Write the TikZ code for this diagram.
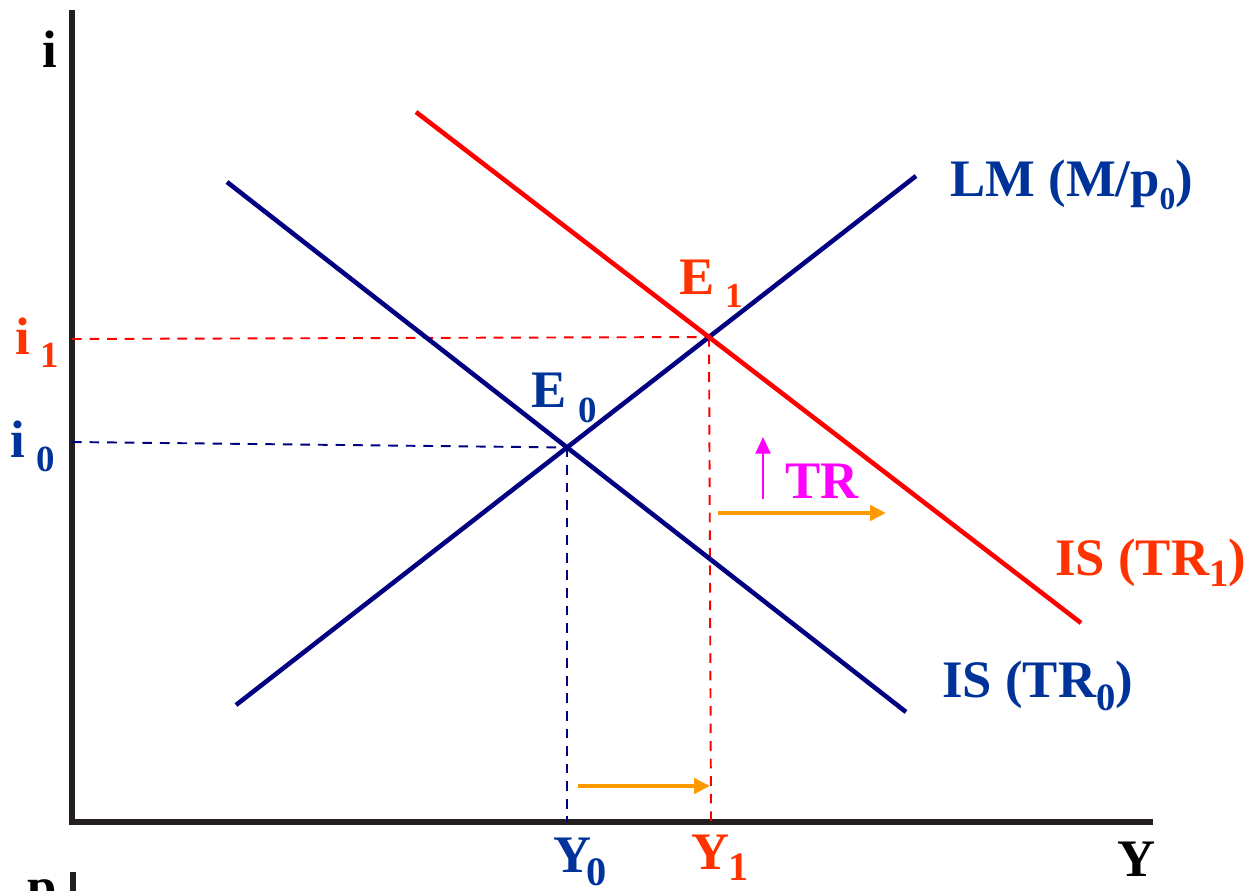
\documentclass[tikz,border=0pt]{standalone}
\usepackage{fontspec}
\setmainfont{Liberation Serif}
\usetikzlibrary{arrows.meta}
\definecolor{navyline}{HTML}{000080}
\definecolor{bluetxt}{HTML}{003399}
\definecolor{redline}{HTML}{FF0000}
\definecolor{redtxt}{HTML}{FF3300}
\definecolor{orangearr}{HTML}{FF9900}
\definecolor{magentaarr}{HTML}{FF00FF}
\definecolor{axiscol}{HTML}{231F20}
% main letter, offset of subscript origin, drop, size, subscript
\newcommand{\pairlbl}[5]{\makebox[0pt][l]{#1}\hspace{#2}\raisebox{-#3}{\fontsize{#4}{#4}\selectfont #5}}
\newcommand{\lowdigit}[3]{\raisebox{-#1}{\fontsize{#2}{#2}\selectfont #3}}
\begin{document}
\begin{tikzpicture}[x=0.02cm,y=-0.02cm,
  lbl/.style={inner sep=0pt, anchor=base west, font=\fontsize{30}{36}\selectfont\bfseries},
  axisline/.style={line width=3pt, draw=axiscol, line join=miter},
  curve/.style={line width=2.6pt},
  guide/.style={line width=1.1pt, dash pattern=on 5.5pt off 4.5pt},
  shiftarrow/.style={line width=2.6pt, draw=orangearr, -{Triangle[length=9pt,width=8.5pt]}},
  risearrow/.style={line width=1.4pt, draw=magentaarr, -{Triangle[length=9.5pt,width=8.5pt]}},
]
\useasboundingbox (0,0) rectangle (1260,891);

% axes
\coordinate (ytop) at (72,10);
\coordinate (orig) at (72,822);
\coordinate (xend) at (1153,822);
\draw[axisline] (ytop) -- (orig) -- (xend);
\coordinate (pstubtop) at (73,872);
\coordinate (pstubbot) at (73,900);
\draw[axisline] (pstubtop) -- (pstubbot);

% curves
\coordinate (lmA) at (236,705);
\coordinate (lmB) at (916,176);
\coordinate (isA) at (227,182);
\coordinate (isB) at (906,712);
\coordinate (isoneA) at (416,112);
\coordinate (isoneB) at (1081,623);
\coordinate (E0) at (567,447.5);
\coordinate (E1) at (709,337);

% guides
\coordinate (ione) at (72,339);
\coordinate (izero) at (72,442);
\coordinate (yzero) at (567,822);
\coordinate (yone) at (711,822);
\draw[guide, redline] (ione) -- (E1);
\draw[guide, redline] (E1) -- (yone);
\draw[guide, navyline] (izero) -- (E0);
\draw[guide, navyline] (E0) -- (yzero);

\draw[curve, navyline] (lmA) -- (lmB);
\draw[curve, navyline] (isA) -- (isB);
\draw[curve, redline] (isoneA) -- (isoneB);

% arrows
\coordinate (botS) at (578,786);
\coordinate (botE) at (710,786);
\draw[shiftarrow] (botS) -- (botE);
\coordinate (midS) at (718,513);
\coordinate (midE) at (886,513);
\draw[shiftarrow] (midS) -- (midE);
\coordinate (trS) at (763,499);
\coordinate (trE) at (763,437);
\draw[risearrow] (trS) -- (trE);

% labels
\node[lbl] (ilab) at (42,68) {i};
\node[lbl] (ylab) at (1117,876) {Y};
\node[lbl] (plab) at (27,904) {p};
\node[lbl, text=redtxt] (i1lab) at (15,355) {\pairlbl{i}{14.2pt}{7.4pt}{21}{1}};
\node[lbl, text=bluetxt] (i0lab) at (10,458) {\pairlbl{i}{14.7pt}{7.4pt}{21}{0}};
\node[lbl, text=bluetxt] (E0lab) at (531,408) {\pairlbl{E}{26.6pt}{8.5pt}{21}{0}};
\node[lbl, text=redtxt] (E1lab) at (679,295) {\pairlbl{E}{26.1pt}{7.4pt}{20}{1}};
\node[lbl, text=bluetxt] (Y0lab) at (553,872) {\pairlbl{Y}{19pt}{7.5pt}{23}{0}};
\node[lbl, text=redtxt] (Y1lab) at (691,869) {\pairlbl{Y}{21pt}{6.8pt}{23}{1}};
\node[lbl, text=bluetxt] (lmlab) at (950,197) {LM (M/p\lowdigit{7.4pt}{18}{0})};
\node[lbl, text=redtxt] (is1lab) at (1055,575) {IS (TR\lowdigit{6.8pt}{22}{1})};
\node[lbl, text=bluetxt] (is0lab) at (942,697) {IS (TR\lowdigit{7.9pt}{22}{0})};
\node[lbl, text=magentaarr] (trlab) at (785,498) {TR};
\end{tikzpicture}
\end{document}
